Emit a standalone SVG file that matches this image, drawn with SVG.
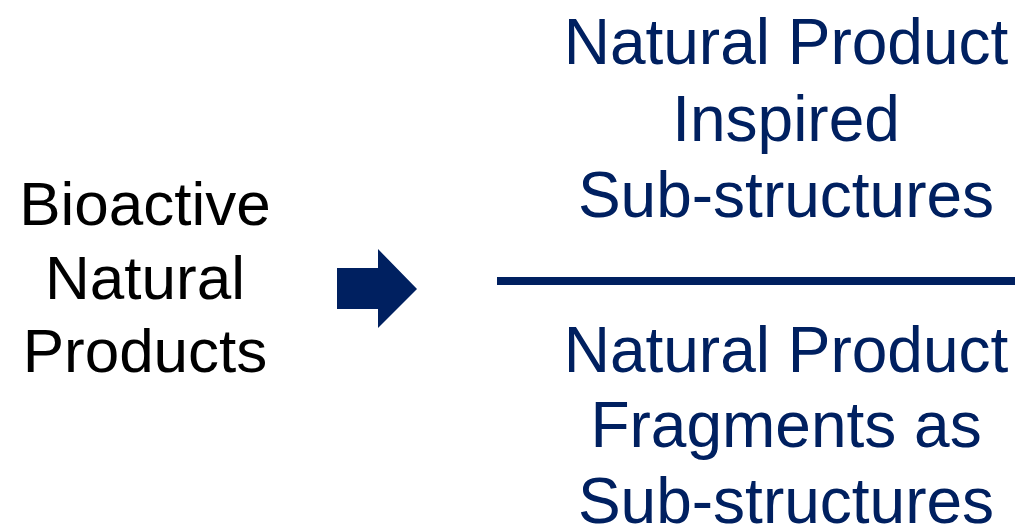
<svg xmlns="http://www.w3.org/2000/svg" width="1015" height="527" viewBox="0 0 1015 527">
<style>
text{font-family:"Liberation Sans",Arial,sans-serif;text-anchor:middle}
.l{font-size:62px;fill:#000}
.r{font-size:64px;fill:#002060}
</style>
<rect width="1015" height="527" fill="#fff"/>
<g id="source">
<text class="l" x="145" y="225">Bioactive</text>
<text class="l" x="145" y="299">Natural</text>
<text class="l" x="145" y="372">Products</text>
</g>
<g id="connectors">
<polygon points="337,268 378,268 378,249 417,289 378,328 378,309 337,309" fill="#002060"/>
<rect x="497" y="277" width="518" height="8" fill="#002060"/>
</g>
<g id="top">
<text class="r" x="786" y="64">Natural Product</text>
<text class="r" x="786" y="141">Inspired</text>
<text class="r" x="786" y="217">Sub-structures</text>
</g>
<g id="bottom">
<text class="r" x="786" y="372">Natural Product</text>
<text class="r" x="786" y="447">Fragments as</text>
<text class="r" x="786" y="523">Sub-structures</text>
</g>
</svg>
